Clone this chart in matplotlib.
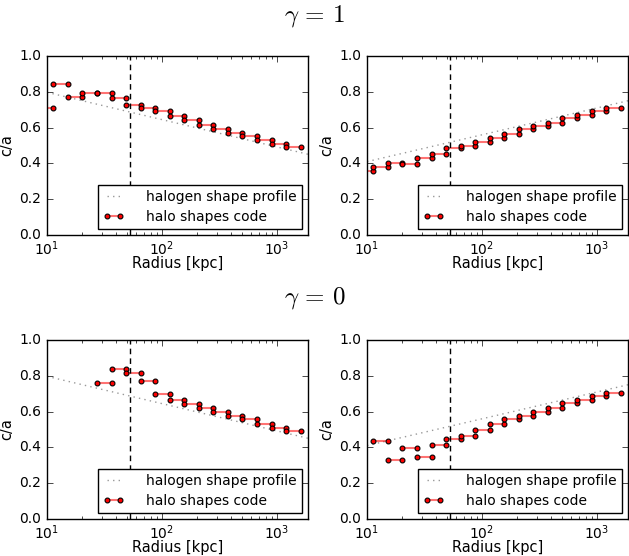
import numpy as np
import matplotlib
matplotlib.use('Agg')
import matplotlib.pyplot as plt

plt.style.use('classic')
plt.rcParams['mathtext.fontset'] = 'cm'
plt.rcParams['font.size'] = 10
plt.rcParams['savefig.facecolor'] = 'white'

# shell edges in kpc (log-spaced bins)
shell_edges = [8.48, 11.35, 15.19, 20.32, 27.2, 36.4, 48.7, 65.2, 87.2, 116.7,
               156.2, 208.9, 279.6, 374.1, 500.6, 669.9, 896.4, 1199.0, 1605.0]

# c/a per shell from the halo shapes code (nan = shell not measured)
ca_g1_left = [0.709, 0.841, 0.772, 0.794, 0.791, 0.767, 0.726, 0.707, 0.692,
              0.664, 0.640, 0.612, 0.590, 0.571, 0.551, 0.532, 0.510, 0.491]
ca_g1_right = [0.355, 0.378, 0.400, 0.396, 0.432, 0.454, 0.484, 0.500, 0.519,
               0.543, 0.567, 0.590, 0.608, 0.627, 0.651, 0.670, 0.692, 0.709]
ca_g0_left = [np.nan, np.nan, np.nan, np.nan, 0.760, 0.840, 0.816, 0.770, 0.699,
              0.664, 0.645, 0.621, 0.599, 0.578, 0.556, 0.532, 0.511, 0.491]
ca_g0_right = [np.nan, 0.435, 0.331, 0.394, 0.349, 0.413, 0.448, 0.461, 0.498,
               0.533, 0.561, 0.578, 0.600, 0.621, 0.647, 0.665, 0.688, 0.706]

# halogen input shape profile
prof_r = [10.0, 1860.0]
prof_left = [0.797, 0.451]
prof_right = [0.410, 0.750]

r_cut = 53.0

panels = [
    (ca_g1_left, prof_left), (ca_g1_right, prof_right),
    (ca_g0_left, prof_left), (ca_g0_right, prof_right),
]

fig = plt.figure(figsize=(6.29, 5.56), dpi=100)
W, H = 629.0, 556.0
boxes = [(47, 56, 308, 235), (367, 56, 628, 235),
         (47, 340, 308, 519), (367, 340, 628, 519)]

for (x0, y0, x1, y1), (ca, prof) in zip(boxes, panels):
    ax = fig.add_axes([x0 / W, 1 - y1 / H, (x1 - x0) / W, (y1 - y0) / H])
    ax.plot(prof_r, prof, ':', color='0.6', lw=1, label='halogen shape profile')
    first = True
    for i, v in enumerate(ca):
        if np.isnan(v):
            continue
        ax.plot([shell_edges[i], shell_edges[i + 1]], [v, v], '-o',
                color=(1, 0, 0, 0.55), lw=1.5, mfc='r', mec='k', mew=0.8, ms=3.5,
                label='halo shapes code' if first else None)
        first = False
    ax.axvline(r_cut, color='k', ls='--', lw=1, dashes=(4, 3))
    ax.set_xscale('log')
    ax.set_xlim(10, 1860)
    ax.set_ylim(0, 1)
    ax.set_yticks([0, 0.2, 0.4, 0.6, 0.8, 1.0])
    ax.set_xlabel('Radius [kpc]', labelpad=-1, fontsize=10.5)
    ax.set_ylabel('c/a', labelpad=4, fontsize=10.5)
    ax.tick_params(labelsize=10)
    ax.tick_params(axis='x', which='both', pad=3)
    leg = ax.legend(loc='lower right', fontsize=10, numpoints=2,
                    borderaxespad=0.4, handlelength=1.5, handletextpad=1.6,
                    labelspacing=0.4, borderpad=0.4)
    leg.get_frame().set_linewidth(1)

fig.text(0.5, 1 - 16 / H, r'$\gamma\,=\,1$', ha='center', va='center', fontsize=18)
fig.text(0.5, 1 - 298 / H, r'$\gamma\,=\,0$', ha='center', va='center', fontsize=18)

fig.savefig('out.png', dpi=100)
